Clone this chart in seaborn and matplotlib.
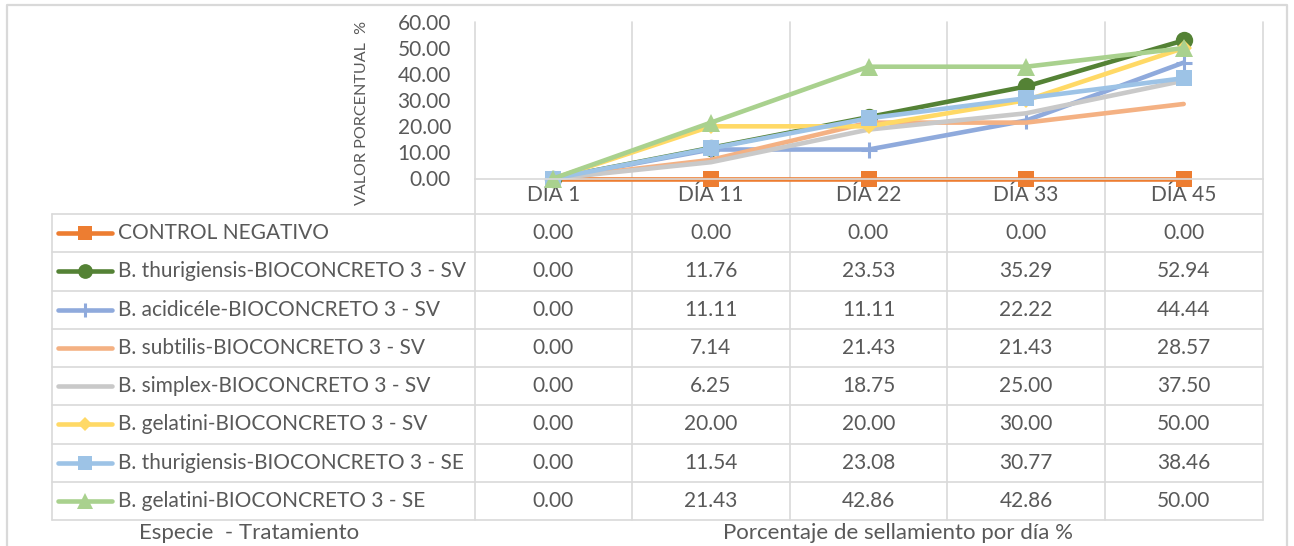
import numpy as np
import pandas as pd
import matplotlib
matplotlib.use("Agg")
import matplotlib.pyplot as plt
import seaborn as sns

# ---- data -------------------------------------------------------------
days = ["DIA 1", "DÍA 11", "DÍA 22", "DÍA 33", "DÍA 45"]
series_names = [
    "CONTROL NEGATIVO",
    "B. thurigiensis-BIOCONCRETO 3 - SV",
    "B. acidicéle-BIOCONCRETO 3 - SV",
    "B. subtilis-BIOCONCRETO 3 - SV",
    "B. simplex-BIOCONCRETO 3 - SV",
    "B. gelatini-BIOCONCRETO 3 - SV",
    "B. thurigiensis-BIOCONCRETO 3 - SE",
    "B. gelatini-BIOCONCRETO 3 - SE",
]
control_neg = [0.00, 0.00, 0.00, 0.00, 0.00]
thur_sv = [0.00, 11.76, 23.53, 35.29, 52.94]
acid_sv = [0.00, 11.11, 11.11, 22.22, 44.44]
subt_sv = [0.00, 7.14, 21.43, 21.43, 28.57]
simp_sv = [0.00, 6.25, 18.75, 25.00, 37.50]
gela_sv = [0.00, 20.00, 20.00, 30.00, 50.00]
thur_se = [0.00, 11.54, 23.08, 30.77, 38.46]
gela_se = [0.00, 21.43, 42.86, 42.86, 50.00]
y_ticks = [0, 10, 20, 30, 40, 50, 60]

series_values = [control_neg, thur_sv, acid_sv, subt_sv, simp_sv,
                 gela_sv, thur_se, gela_se]

# ---- styles -----------------------------------------------------------
styles = [
    dict(color="#ED7D31", marker="s", ms=12, mew=0),
    dict(color="#548235", marker="o", ms=12.5, mew=0),
    dict(color="#8FAADC", marker="+", ms=12, mew=2.2),
    dict(color="#F4B183", marker=None, ms=0, mew=0),
    dict(color="#C9C9C9", marker=None, ms=0, mew=0),
    dict(color="#FFD966", marker="D", ms=8, mew=0),
    dict(color="#9DC3E6", marker="s", ms=12, mew=0),
    dict(color="#A9D18E", marker="^", ms=13, mew=0),
]
LW = 3.3
TXT = "#595959"
GRID = "#D9D9D9"

long_df = pd.DataFrame({
    "serie": np.repeat(series_names, len(days)),
    "pos": np.tile(np.arange(len(days)), len(series_names)),
    "valor": np.concatenate(series_values),
})

sns.set_theme(style="white")
plt.rcParams["font.family"] = ["Lato", "DejaVu Sans"]
plt.rcParams["text.color"] = TXT

W, H = 1294, 546
fig = plt.figure(figsize=(W / 100, H / 100), dpi=100)

# layout in pixels
X0, COL_W = 474.5, 157.6
PLOT_TOP, PLOT_BOT = 22.0, 178.5
TABLE_L = 52.0
ROW_TOP, ROW_H = 214.0, 38.25
TABLE_BOT = ROW_TOP + ROW_H * len(series_names)
X1 = X0 + COL_W * len(days)

# overlay axes in pixel coordinates (frame, grid, data table)
ov = fig.add_axes([0, 0, 1, 1], zorder=0)
ov.set_xlim(0, W)
ov.set_ylim(H, 0)
ov.axis("off")

# chart area
ax = fig.add_axes([X0 / W, 1 - PLOT_BOT / H, (X1 - X0) / W,
                   (PLOT_BOT - PLOT_TOP) / H], zorder=1)
ax.set_facecolor("none")

FS = 15

# outer frame
ov.plot([7, 7, 1287, 1287], [H + 5, 5, 5, H + 5], color=GRID, lw=1.6,
        clip_on=False)

# vertical gridlines running through chart and table
for k in range(len(days) + 1):
    xk = X0 + k * COL_W
    ov.plot([xk, xk], [PLOT_TOP, TABLE_BOT], color=GRID, lw=1.2)
ov.plot([TABLE_L, TABLE_L], [ROW_TOP, TABLE_BOT], color=GRID, lw=1.2)

# horizontal table lines
for i in range(len(series_names) + 1):
    yi = ROW_TOP + i * ROW_H
    ov.plot([TABLE_L, X1], [yi, yi], color=GRID, lw=1.2)

# table contents
for i, (name, vals, st) in enumerate(zip(series_names, series_values, styles)):
    yc = ROW_TOP + (i + 0.5) * ROW_H
    ov.plot([58, 85, 112], [yc, yc, yc], color=st["color"], lw=LW,
            marker=st["marker"], markevery=[1], ms=st["ms"] * 0.85,
            mew=st["mew"], mec=st["color"], solid_capstyle="round")
    ov.text(118, yc, name, ha="left", va="center", fontsize=FS, color=TXT)
    for j, v in enumerate(vals):
        ov.text(X0 + (j + 0.5) * COL_W, yc, f"{v:.2f}", ha="center",
                va="center", fontsize=FS, color=TXT)

ov.text(249, 533, "Especie  - Tratamiento", ha="center", va="center",
        fontsize=16, color=TXT)
ov.text(898, 533, "Porcentaje de sellamiento por día %", ha="center",
        va="center", fontsize=16, color=TXT)
ov.text(362, 113, "VALOR PORCENTUAL  %", rotation=90, ha="center",
        va="center", fontsize=11.6, color=TXT)

# lines
for name, st in zip(series_names, styles):
    sub = long_df[long_df["serie"] == name]
    kw = dict(color=st["color"], linewidth=LW)
    if st["marker"]:
        kw.update(marker=st["marker"], markersize=st["ms"],
                  markeredgewidth=st["mew"], markeredgecolor=st["color"])
    sns.lineplot(data=sub, x="pos", y="valor", ax=ax, **kw)
for ln in ax.lines:
    ln.set_clip_on(False)

ax.set_xlim(-0.5, len(days) - 0.5)
ax.set_ylim(y_ticks[0], y_ticks[-1])
ax.set_yticks(y_ticks)
ax.set_yticklabels([f"{t:.2f}" for t in y_ticks])
ax.set_xticks(range(len(days)))
ax.set_xticklabels(days)
ax.tick_params(axis="both", length=0, labelsize=FS, labelcolor=TXT)
ax.tick_params(axis="y", pad=17)
ax.tick_params(axis="x", pad=5)
ax.set_xlabel("")
ax.set_ylabel("")
for side in ["top", "left", "right"]:
    ax.spines[side].set_visible(False)
ax.spines["bottom"].set_color(GRID)
ax.spines["bottom"].set_linewidth(1.2)
ax.grid(False)

fig.savefig("out.png", dpi=100)
